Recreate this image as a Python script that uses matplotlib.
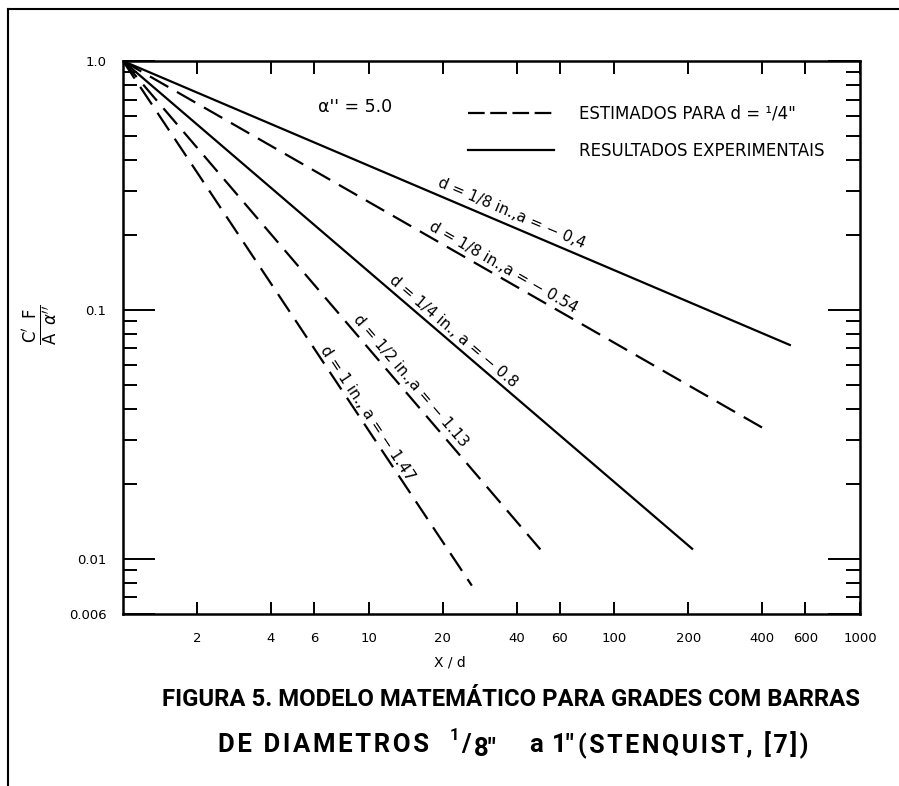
import math
import matplotlib
matplotlib.use("Agg")
import matplotlib.pyplot as plt
from matplotlib.lines import Line2D
from matplotlib.ticker import FixedLocator, NullFormatter, LogLocator, FixedFormatter

# ---------------- data ----------------
curve_labels = ["d = 1/8 in.,a = − 0,4",
                "d = 1/8 in.,a = − 0.54",
                "d = 1/4 in., a = − 0.8",
                "d = 1/2 in.,a = − 1.13",
                "d = 1 in., a = − 1.47"]
x_start = [1.0, 1.0, 1.0, 1.0, 1.0]
y_start = [1.0, 1.0, 1.0, 1.0, 1.0]
x_end = [523, 414, 209, 50, 26.3]
y_end = [0.072, 0.033, 0.0109, 0.0109, 0.0078]
curve_kind = ["solid", "dashed", "solid", "dashed", "dashed"]

x_ticks = [2, 4, 6, 10, 20, 40, 60, 100, 200, 400, 600, 1000]
x_tick_labels = ["2", "4", "6", "10", "20", "40", "60", "100", "200", "400", "600", "1000"]
y_ticks = [0.006, 0.01, 0.1, 1.0]
y_tick_labels = ["0.006", "0.01", "0.1", "1.0"]

legend_labels = ["ESTIMADOS PARA d = ¹/4\"", "RESULTADOS EXPERIMENTAIS"]
title1 = "FIGURA 5. MODELO MATEMÁTICO PARA GRADES COM BARRAS"
title2_word1 = "DE DIAMETROS"
title2_frac = ("1", "/", "8\"")
title2_a = "a"
title2_one = "1\""
title2_ref = "(STENQUIST, [7])"

# ---------------- figure ----------------
W, H = 899, 786
fig = plt.figure(figsize=(W / 100, H / 100), dpi=100)
fig.patch.set_facecolor("white")
ax = fig.add_axes([123 / W, 1 - 614 / H, (860 - 123) / W, (614 - 61) / H])

ax.set_xscale("log")
ax.set_yscale("log")
ax.set_xlim(1, 1000)
ax.set_ylim(0.006, 1.0)

LW = 1.6
DASH = (9.5, 4.5)
for xs, ys, xe, ye, kind in zip(x_start, y_start, x_end, y_end, curve_kind):
    if kind == "dashed":
        ax.plot([xs, xe], [ys, ye], color="black", lw=LW, linestyle=(0, DASH),
                solid_capstyle="butt", dash_capstyle="butt")
    else:
        ax.plot([xs, xe], [ys, ye], color="black", lw=LW, solid_capstyle="butt")

# curve labels along lines
label_t = [0.575, 0.583, 0.568, 0.67, 0.68]
label_off = [12, 10, 10, 11, 8]  # pixels perpendicular
for lab, xs, ys, xe, ye, t, off in zip(curve_labels, x_start, y_start, x_end, y_end, label_t, label_off):
    p0 = ax.transData.transform((xs, ys))
    p1 = ax.transData.transform((xe, ye))
    dx, dy = p1[0] - p0[0], p1[1] - p0[1]
    L = math.hypot(dx, dy)
    ang = math.degrees(math.atan2(dy, dx))
    px = p0[0] + t * (p1[0] - p0[0])
    py = p0[1] + t * (p1[1] - p0[1])
    nx, ny = -dy / L, dx / L
    if ny < 0:
        nx, ny = -nx, -ny
    cx, cy = px + nx * off, py + ny * off
    fx, fy = fig.transFigure.inverted().transform((cx, cy))
    fig.text(fx, fy, lab, rotation=ang, rotation_mode="anchor", ha="center",
             va="center", fontsize=11)

# axes styling
for s in ax.spines.values():
    s.set_linewidth(1.8)

ax.xaxis.set_major_locator(FixedLocator(x_ticks))
ax.xaxis.set_major_formatter(FixedFormatter(x_tick_labels))
ax.xaxis.set_minor_locator(FixedLocator([]))
ax.tick_params(axis="x", which="major", direction="in", length=9, width=1.4,
               top=True, bottom=True, labelsize=9.5, pad=13)

ax.yaxis.set_major_locator(FixedLocator(y_ticks))
ax.yaxis.set_major_formatter(FixedFormatter(y_tick_labels))
ax.yaxis.set_minor_locator(LogLocator(base=10, subs=[2, 3, 4, 5, 6, 7, 8, 9], numticks=20))
ax.yaxis.set_minor_formatter(NullFormatter())
ax.tick_params(axis="y", which="major", direction="in", length=23, width=1.4,
               left=True, right=True, labelsize=9.5, pad=12)
ax.tick_params(axis="y", which="minor", direction="in", length=10, width=1.4,
               left=True, right=True)

# legend
handles = [Line2D([], [], color="black", lw=LW, linestyle=(0, (7.5, 2.5))),
           Line2D([], [], color="black", lw=LW)]
ax.legend(handles, legend_labels, loc="upper left", bbox_to_anchor=(0.468, 0.921),
          frameon=False, fontsize=12, handlelength=5.15, handletextpad=1.5,
          labelspacing=1.15, borderpad=0, borderaxespad=0)

ax.text(0.315, 0.917, "α'' = 5.0", transform=ax.transAxes, ha="center",
        va="center", fontsize=12.5)

# axis labels
fig.text(450 / W, 1 - 662 / H, "X / d", ha="center", va="center", fontsize=10)
fig.text(41 / W, 1 - 325 / H,
         r"$\frac{\mathrm{C}^{\prime}\;\;\mathrm{F}}{\mathrm{A}\;\;\alpha^{\prime\prime}}$",
         rotation=90, ha="center", va="center", fontsize=17)

# titles
TF = dict(fontweight="bold", family=["Roboto", "DejaVu Sans"], va="center")
HS = "\u200a"


def spaced(s):
    return HS.join(s)


fig.text(511 / W, 1 - 700 / H, title1, ha="center", fontsize=17.2, **TF)
Y2 = 1 - 745 / H
fig.text(218 / W, Y2, spaced(title2_word1), ha="left", fontsize=18.5, **TF)
fig.text(450 / W, 1 - 736 / H, title2_frac[0], ha="left", fontsize=12, **TF)
fig.text(461 / W, Y2, title2_frac[1], ha="left", fontsize=18.5, **TF)
fig.text(474 / W, 1 - 749 / H, title2_frac[2], ha="left", fontsize=18.5, **TF)
fig.text(529 / W, Y2, title2_a, ha="left", fontsize=18.5, **TF)
fig.text(552 / W, Y2, title2_one, ha="left", fontsize=18.5, **TF)
fig.text(578 / W, Y2, spaced(title2_ref), ha="left", fontsize=18, **TF)

# page frame lines
fig.add_artist(Line2D([8 / W, 1.0], [1 - 9 / H, 1 - 9 / H], transform=fig.transFigure,
                      color="black", lw=1.5))
fig.add_artist(Line2D([8 / W, 8 / W], [1 - 9 / H, 0.0], transform=fig.transFigure,
                      color="black", lw=1.5))

fig.savefig("out.png", dpi=100, facecolor="white")
